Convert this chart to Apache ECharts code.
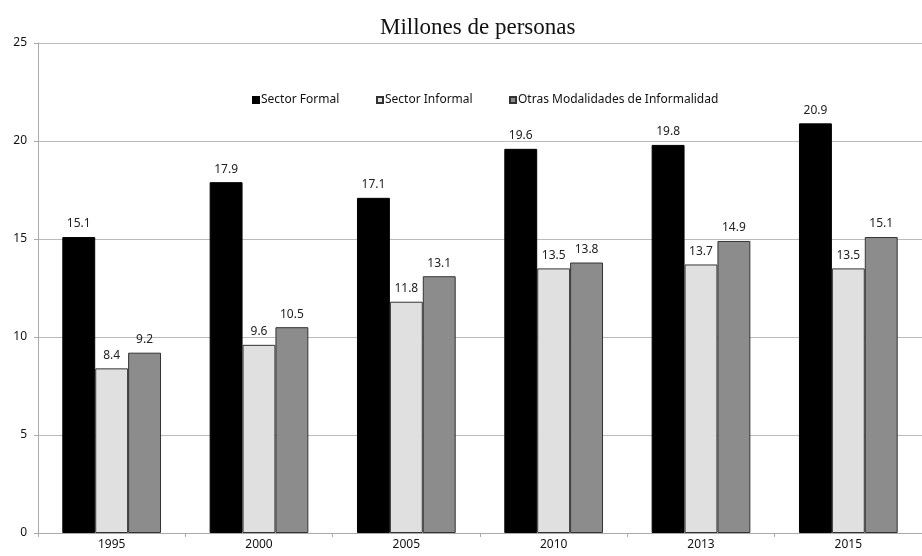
<!DOCTYPE html>
<html><head><meta charset="utf-8">
<script src="https://cdn.jsdelivr.net/npm/echarts@6/dist/echarts.min.js"></script>
<style>html,body{margin:0;padding:0;background:#fff}#c{width:922px;height:556px}</style>
</head><body><div id="c"></div>
<script>
const categories = ['1995','2000','2005','2010','2013','2015'];
const formal = [15.1, 17.9, 17.1, 19.6, 19.8, 20.9];
const informal = [8.4, 9.6, 11.8, 13.5, 13.7, 13.5];
const otras = [9.2, 10.5, 13.1, 13.8, 14.9, 15.1];
const seriesNames = ['Sector Formal','Sector Informal','Otras Modalidades de Informalidad'];
const colors = ['#000000','#e0e0e0','#8c8c8c'];
const titleText = 'Millones de personas';

const chart = echarts.init(document.getElementById('c'));
const sans = '"Noto Sans", sans-serif';
function mk(name, data, color) {
  return {
    name, type: 'bar', data, barGap: '0%', barCategoryGap: '33%',
    itemStyle: { color, borderColor: color === '#000000' ? '#000' : '#333', borderWidth: 1 },
    label: { show: true, position: 'top', distance: 7, fontFamily: sans, fontSize: 12, color: '#222',
      formatter: p => p.value.toFixed(1) },
    emphasis: { disabled: true }, animation: false
  };
}
const legendLefts = [247, 371, 504];
chart.setOption({
  animation: false,
  title: { text: titleText, left: 375, top: 11,
    textStyle: { fontFamily: '"Liberation Serif", serif', fontSize: 23, fontWeight: 'normal', color: '#111' } },
  legend: seriesNames.map((n, i) => ({
    data: [n], left: legendLefts[i], top: 89, itemWidth: 6, itemHeight: 6, itemGap: 2,
    icon: 'rect', textStyle: { fontFamily: sans, fontSize: 12, color: '#111', padding: [0,0,0,-3] },
    selectedMode: false
  })),
  grid: { left: 38, right: 0, top: 43, bottom: 23, containLabel: false },
  xAxis: {
    type: 'category', data: categories,
    axisLine: { lineStyle: { color: '#aaa' } },
    axisTick: { show: true, alignWithLabel: false, length: 4, lineStyle: { color: '#aaa' } },
    axisLabel: { fontFamily: sans, fontSize: 12, color: '#111', margin: 6 }
  },
  yAxis: {
    type: 'value', min: 0, max: 25, interval: 5,
    axisLine: { show: true, lineStyle: { color: '#aaa' } },
    axisTick: { show: true, length: 4, lineStyle: { color: '#aaa' } },
    axisLabel: { fontFamily: sans, fontSize: 12, color: '#111', margin: 11 },
    splitLine: { lineStyle: { color: '#bbb' } }
  },
  series: [mk(seriesNames[0], formal, colors[0]), mk(seriesNames[1], informal, colors[1]), mk(seriesNames[2], otras, colors[2])]
});
</script></body></html>
